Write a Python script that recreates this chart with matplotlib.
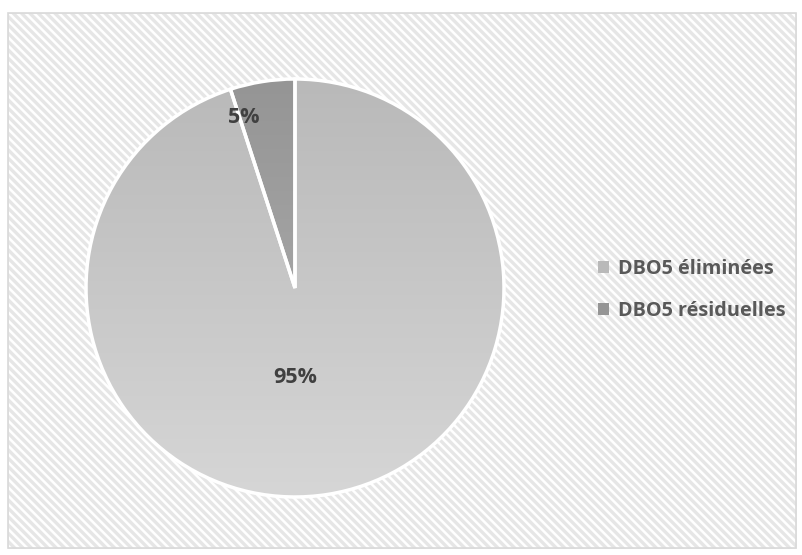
import numpy as np
import matplotlib.pyplot as plt
from matplotlib.patches import Rectangle
from matplotlib.colors import LinearSegmentedColormap

plt.rcParams['hatch.linewidth'] = 2.4

labels = ["DBO5 éliminées", "DBO5 résiduelles"]
values = [95, 5]
pct_text = ["95%", "5%"]
# top / bottom shade of each slice
shades = [("#b9b9b9", "#d6d6d6"), ("#959595", "#b3b3b3")]

fig = plt.figure(figsize=(8.02, 5.55), dpi=100)
fig.patch.set_facecolor("white")

# striped chart area with thin border
bg_ax = fig.add_axes([0, 0, 1, 1], zorder=-5)
bg_ax.set_xlim(0, 802)
bg_ax.set_ylim(555, 0)
bg_ax.axis("off")
bg_ax.add_patch(Rectangle((8, 13), 788, 535, facecolor="white", edgecolor="#e6e6e6",
                          hatch="\\\\\\\\", linewidth=0.5))
bg_ax.add_patch(Rectangle((8, 13), 788, 535, facecolor="none", edgecolor="#d9d9d9",
                          linewidth=1.2))

# pie axes: centre ~ (295, 288), radius ~ 209 px
r = 209
ax = fig.add_axes([(295 - r) / 802, 1 - (288 + r) / 555, 2 * r / 802, 2 * r / 555])
ax.set_facecolor("none")
wedges, _ = ax.pie(values, startangle=90, counterclock=False,
                   colors=[s[0] for s in shades],
                   wedgeprops=dict(edgecolor="white", linewidth=2.5))

# vertical gradient fill clipped to each slice
grad = np.linspace(0, 1, 256).reshape(-1, 1)
for w, (top, bot) in zip(wedges, shades):
    cmap = LinearSegmentedColormap.from_list("g", [bot, top])
    im = ax.imshow(grad, extent=(-1, 1, -1, 1), origin="lower", cmap=cmap,
                   aspect="auto", zorder=w.get_zorder() - 0.1)
    im.set_clip_path(w)
    w.set_facecolor("none")
ax.set_xlim(-1, 1)
ax.set_ylim(-1, 1)
ax.set_aspect("auto")
ax.axis("off")

# percentage labels
font = ["Open Sans", "DejaVu Sans"]
ax.text(0.0, -0.43, pct_text[0], ha="center", va="center", fontsize=15.5,
        fontweight="bold", color="#404040", family=font)
ax.text(-0.245, 0.815, pct_text[1], ha="center", va="center", fontsize=15.5,
        fontweight="bold", color="#404040", family=font)

leg = fig.legend(wedges, labels, loc="center left", bbox_to_anchor=(580 / 802, 1 - 290 / 555),
                 frameon=False, handlelength=0.55, handleheight=0.55, handletextpad=0.45,
                 labelspacing=1.15, prop=dict(family=font, weight="bold", size=14.3))
for h, (top, bot) in zip(leg.legend_handles, shades):
    h.set_facecolor(top)
    h.set_edgecolor("none")
for t in leg.get_texts():
    t.set_color("#595959")

fig.savefig("out.png", dpi=100)
